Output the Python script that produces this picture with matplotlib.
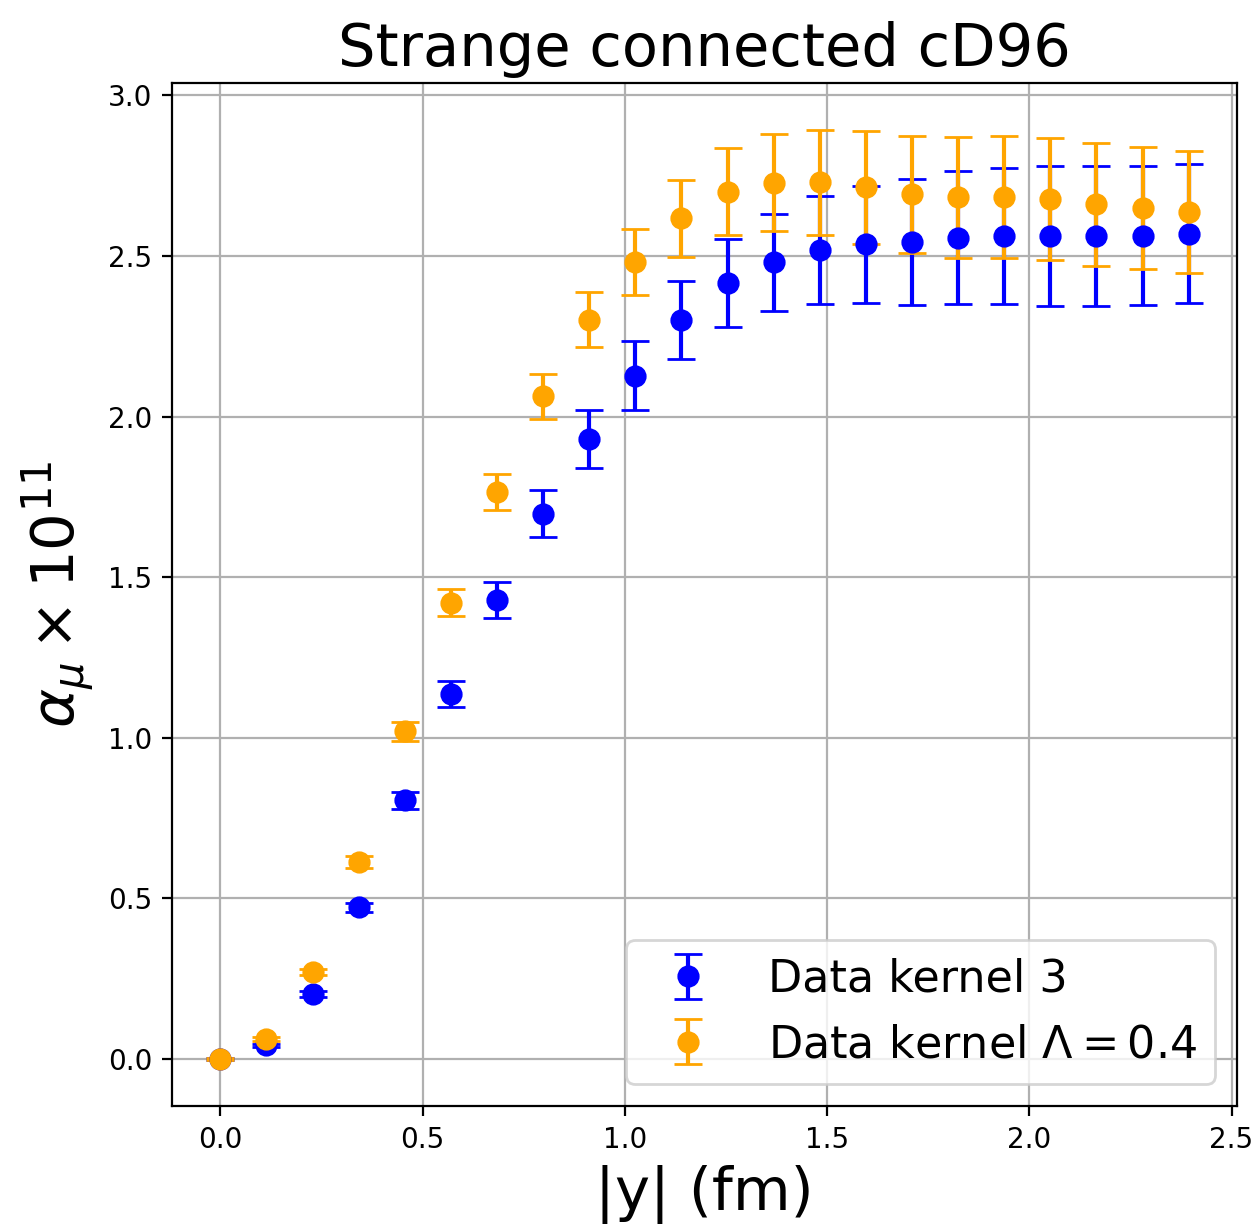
import matplotlib
matplotlib.use("Agg")
import matplotlib.pyplot as plt

y_fm = [0.0, 0.114, 0.228, 0.342, 0.456, 0.570, 0.684, 0.798, 0.912, 1.026, 1.140,
        1.254, 1.368, 1.482, 1.596, 1.710, 1.824, 1.938, 2.052, 2.166, 2.280, 2.394]

k3_val = [0.0, 0.042, 0.203, 0.472, 0.805, 1.137, 1.429, 1.698, 1.931, 2.127, 2.300,
          2.416, 2.481, 2.519, 2.536, 2.544, 2.557, 2.563, 2.563, 2.561, 2.563, 2.570]
k3_err = [0.002, 0.006, 0.009, 0.015, 0.026, 0.041, 0.056, 0.072, 0.091, 0.107, 0.121,
          0.136, 0.151, 0.167, 0.182, 0.196, 0.207, 0.212, 0.217, 0.218, 0.216, 0.216]

lam_val = [0.0, 0.061, 0.270, 0.613, 1.020, 1.421, 1.766, 2.063, 2.302, 2.481, 2.617,
           2.700, 2.729, 2.730, 2.714, 2.692, 2.683, 2.683, 2.677, 2.661, 2.649, 2.636]
lam_err = [0.002, 0.006, 0.010, 0.018, 0.029, 0.042, 0.056, 0.071, 0.086, 0.102, 0.119,
           0.135, 0.151, 0.164, 0.175, 0.183, 0.188, 0.190, 0.190, 0.191, 0.190, 0.190]

labels = ["Data kernel 3", r"Data kernel $\Lambda = 0.4$"]

fig = plt.figure(figsize=(6.275, 6.14), dpi=200)
ax = fig.add_axes([0.137, 0.0993, 0.8487, 0.8331])

ax.errorbar(y_fm, k3_val, yerr=k3_err, fmt='o', color='blue', ms=7, capsize=5,
            label=labels[0])
ax.errorbar(y_fm, lam_val, yerr=lam_err, fmt='o', color='orange', ms=7, capsize=5,
            label=labels[1])

ax.grid(True)
ax.set_title("Strange connected cD96", fontsize=21.3)
ax.set_xlabel("|y| (fm)", fontsize=21.4)
ax.set_ylabel(r"$\alpha_\mu \times 10^{11}$", fontsize=21.4)
ax.set_xticks([0.0, 0.5, 1.0, 1.5, 2.0, 2.5])
ax.set_yticks([0.0, 0.5, 1.0, 1.5, 2.0, 2.5, 3.0])
ax.legend(loc='lower right', fontsize=16)

fig.savefig("out.png", dpi=200)
